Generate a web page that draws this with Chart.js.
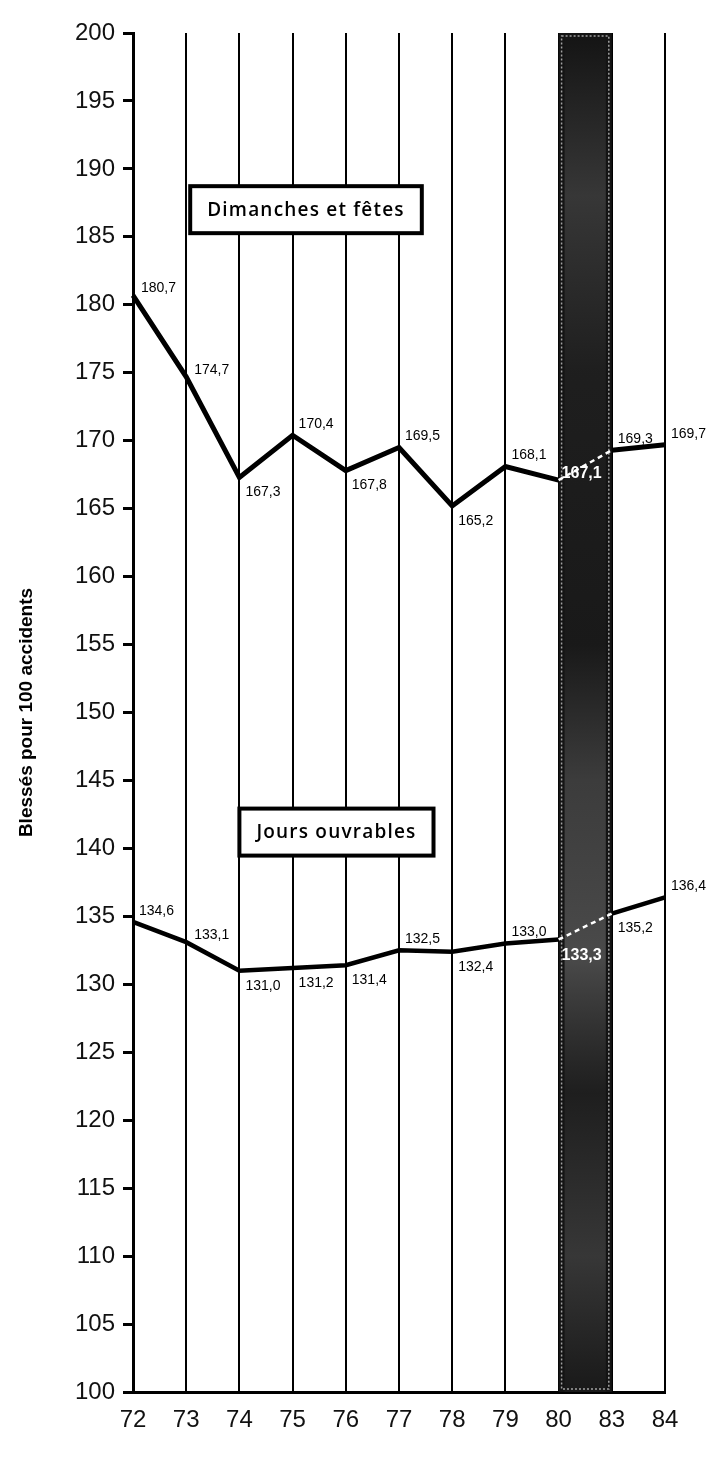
<!DOCTYPE html>
<html>
<head>
<meta charset="utf-8">
<script src="https://cdn.jsdelivr.net/npm/chart.js@4.4.1/dist/chart.umd.min.js"></script>
<style>
  html, body { margin: 0; padding: 0; background: #fff; }
  canvas { display: block; }
</style>
</head>
<body>
<canvas id="chart" width="715" height="1460"></canvas>
<script>
const years = ['72', '73', '74', '75', '76', '77', '78', '79', '80', '83', '84'];
const dimanches = [180.7, 174.7, 167.3, 170.4, 167.8, 169.5, 165.2, 168.1, 167.1, 169.3, 169.7];
const ouvrables = [134.6, 133.1, 131.0, 131.2, 131.4, 132.5, 132.4, 133.0, 133.3, 135.2, 136.4];
const seriesNames = ['Dimanches et fêtes', 'Jours ouvrables'];
const yTitle = 'Blessés pour 100 accidents';
const bandFrom = '80';
const bandTo = '83';

// where each value label sits: a = above, b = below, r = right
const dimPlace = ['r', 'r', 'b', 'a', 'b', 'a', 'b', 'a', 'r', 'a', 'a'];
const ouvPlace = ['a', 'r', 'b', 'b', 'b', 'a', 'b', 'a', 'b', 'b', 'a'];

const SANS = '"Liberation Sans", Arial, sans-serif';
const bandIdx = years.indexOf(bandFrom);

// dark shaded column between 80 and 83
const bandPlugin = {
    id: 'band',
    beforeDatasetsDraw(chart) {
        const { ctx, chartArea, scales } = chart;
        const x0 = scales.x.getPixelForValue(years.indexOf(bandFrom));
        const x1 = scales.x.getPixelForValue(years.indexOf(bandTo));
        const top = chartArea.top, h = chartArea.bottom - chartArea.top;
        ctx.save();
        ctx.fillStyle = '#141414';
        ctx.fillRect(x0, top, x1 - x0, h);
        // greyish patches like the printed screen
        const g = ctx.createLinearGradient(0, top, 0, chartArea.bottom);
        g.addColorStop(0.0, 'rgba(120,120,120,0)');
        g.addColorStop(0.12, 'rgba(120,120,120,0.35)');
        g.addColorStop(0.25, 'rgba(120,120,120,0.1)');
        g.addColorStop(0.45, 'rgba(120,120,120,0.05)');
        g.addColorStop(0.55, 'rgba(120,120,120,0.4)');
        g.addColorStop(0.68, 'rgba(140,140,140,0.45)');
        g.addColorStop(0.78, 'rgba(120,120,120,0.1)');
        g.addColorStop(0.9, 'rgba(120,120,120,0.35)');
        g.addColorStop(1.0, 'rgba(120,120,120,0.05)');
        ctx.fillStyle = g;
        ctx.fillRect(x0 + 6, top, x1 - x0 - 12, h);
        ctx.strokeStyle = 'rgba(255,255,255,0.6)';
        ctx.lineWidth = 1.5;
        ctx.setLineDash([2, 2]);
        ctx.strokeRect(x0 + 3, top + 3, x1 - x0 - 6, h - 6);
        ctx.restore();
    }
};

function drawLabels(chart, dsIndex, values, place) {
    const { ctx } = chart;
    const meta = chart.getDatasetMeta(dsIndex);
    ctx.save();
    values.forEach((v, i) => {
        const pt = meta.data[i];
        const txt = v.toFixed(1).replace('.', ',');
        const inBand = i === bandIdx;
        ctx.fillStyle = inBand ? '#fff' : '#000';
        ctx.font = inBand ? 'bold 16px ' + SANS : '14px ' + SANS;
        ctx.textAlign = 'left';
        let x = pt.x + 6, y;
        if (place[i] === 'a') {
            ctx.textBaseline = 'bottom';
            y = pt.y - 4;
        } else if (place[i] === 'b') {
            ctx.textBaseline = 'top';
            y = pt.y + 8;
        } else {
            ctx.textBaseline = 'middle';
            y = pt.y - 7;
            x = pt.x + 8;
        }
        if (inBand) x = pt.x + 3;
        ctx.fillText(txt, x, y);
    });
    ctx.restore();
}

function drawBox(chart, text, leftIdx, dx, yVal) {
    const { ctx, scales } = chart;
    ctx.save();
    ctx.font = '600 19px "Open Sans", sans-serif';
    ctx.letterSpacing = '1.2px';
    const w = ctx.measureText(text).width + 34;
    const h = 47;
    const left = scales.x.getPixelForValue(leftIdx) + dx;
    const top = scales.y.getPixelForValue(yVal) - h / 2;
    ctx.fillStyle = '#fff';
    ctx.fillRect(left, top, w, h);
    ctx.strokeStyle = '#000';
    ctx.lineWidth = 4;
    ctx.strokeRect(left, top, w, h);
    ctx.fillStyle = '#000';
    ctx.textAlign = 'center';
    ctx.textBaseline = 'middle';
    ctx.fillText(text, left + w / 2, top + h / 2 + 1);
    ctx.restore();
}

const annotatePlugin = {
    id: 'annotate',
    afterDatasetsDraw(chart) {
        drawBox(chart, seriesNames[0], 1, 4, 187);
        drawBox(chart, seriesNames[1], 2, 0, 141.2);
        drawLabels(chart, 0, dimanches, dimPlace);
        drawLabels(chart, 1, ouvrables, ouvPlace);
    }
};

const bandSegment = {
    borderColor: c => c.p0DataIndex === bandIdx ? '#fff' : undefined,
    borderDash: c => c.p0DataIndex === bandIdx ? [5, 4] : undefined,
    borderWidth: c => c.p0DataIndex === bandIdx ? 2.5 : undefined
};

new Chart(document.getElementById('chart'), {
    type: 'line',
    data: {
        labels: years,
        datasets: [
            {
                label: seriesNames[0],
                data: dimanches,
                borderColor: '#000',
                borderWidth: 5,
                pointRadius: 0,
                tension: 0,
                segment: bandSegment
            },
            {
                label: seriesNames[1],
                data: ouvrables,
                borderColor: '#000',
                borderWidth: 4.5,
                pointRadius: 0,
                tension: 0,
                segment: bandSegment
            }
        ]
    },
    options: {
        responsive: false,
        animation: false,
        devicePixelRatio: 1,
        layout: { padding: { top: 33, right: 50, left: 0, bottom: 0 } },
        plugins: {
            legend: { display: false },
            tooltip: { enabled: false }
        },
        scales: {
            x: {
                offset: false,
                ticks: {
                    color: '#111',
                    font: { family: SANS, size: 24 },
                    padding: 14,
                    maxRotation: 0,
                    autoSkip: false
                },
                grid: { color: '#000', lineWidth: 2, drawTicks: false },
                border: { display: true, color: '#000', width: 3 },
                afterFit: s => { s.height = 68; }
            },
            y: {
                min: 100,
                max: 200,
                ticks: {
                    stepSize: 5,
                    color: '#111',
                    font: { family: SANS, size: 24 },
                    padding: 8
                },
                grid: {
                    drawOnChartArea: false,
                    drawTicks: true,
                    tickLength: 10,
                    tickWidth: 3,
                    tickColor: '#000'
                },
                border: { display: true, color: '#000', width: 3 },
                title: {
                    display: true,
                    text: yTitle,
                    color: '#000',
                    font: { family: SANS, size: 19, weight: 'bold' },
                    padding: { top: 15, bottom: 0 }
                },
                afterFit: s => { s.width = 133; }
            }
        }
    },
    plugins: [bandPlugin, annotatePlugin]
});
</script>
</body>
</html>
